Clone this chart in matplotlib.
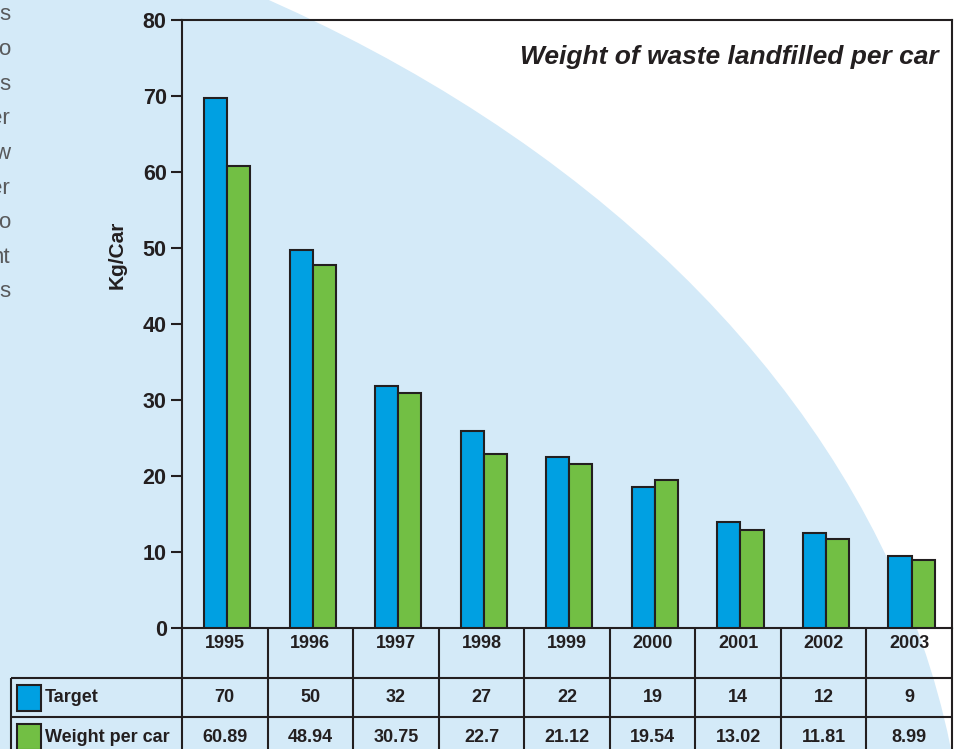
import matplotlib
matplotlib.use("Agg")
import matplotlib.pyplot as plt
from matplotlib.patches import Ellipse, Rectangle

# ---------------- data ----------------
years = ["1995", "1996", "1997", "1998", "1999", "2000", "2001", "2002", "2003"]
series_names = ["Target", "Weight per car"]
# bar heights as drawn in the chart
target_bars = [69.7, 49.7, 31.8, 25.9, 22.5, 18.6, 13.9, 12.5, 9.5]
weight_bars = [60.8, 47.8, 30.9, 22.9, 21.6, 19.5, 12.9, 11.7, 8.9]
# values printed in the table
target_labels = ["70", "50", "32", "27", "22", "19", "14", "12", "9"]
weight_labels = ["60.89", "48.94", "30.75", "22.7", "21.12", "19.54", "13.02", "11.81", "8.99"]
yticks = [0, 10, 20, 30, 40, 50, 60, 70, 80]
title = "Weight of waste landfilled per car"
ylabel = "Kg/Car"
side_fragments = ["s", "o", "s", "er", "w", "er", "o", "nt", "s"]

# ---------------- style ----------------
W, H = 960, 749
BLUE = "#00a0e2"
GREEN = "#72bf44"
DARK = "#231f20"
BG = "#d4eaf8"
FONT = "Liberation Sans"
LW = 1.5

fig = plt.figure(figsize=(W / 100, H / 100), dpi=100)
fig.patch.set_facecolor("white")

# pixel-space overlay axes (background shape, table, texts)
tax = fig.add_axes([0, 0, 1, 1], zorder=0)
tax.set_xlim(0, W)
tax.set_ylim(H, 0)
tax.axis("off")

tax.add_patch(Ellipse((-500, 900), 2 * 1466, 2 * 1057, facecolor=BG, edgecolor="none", zorder=0))

# plot area in pixels
AX_L, AX_R, AX_T, AX_B = 182, 952, 20, 628
ax = fig.add_axes([AX_L / W, (H - AX_B) / H, (AX_R - AX_L) / W, (AX_B - AX_T) / H], zorder=1)
ax.patch.set_alpha(0)

n = len(years)
bw = 0.27
xs = list(range(n))
ax.bar([x - bw / 2 for x in xs], target_bars, width=bw, color=BLUE, edgecolor=DARK, linewidth=LW, zorder=3)
ax.bar([x + bw / 2 for x in xs], weight_bars, width=bw, color=GREEN, edgecolor=DARK, linewidth=LW, zorder=3)
shift = 0.027
ax.set_xlim(-0.5 - shift, n - 0.5 - shift)
ax.set_ylim(yticks[0], yticks[-1])
ax.set_xticks([])
ax.set_yticks(yticks)
ax.set_yticklabels([str(t) for t in yticks], fontfamily=FONT, fontweight="bold", fontsize=15.5, color=DARK)
ax.tick_params(axis="y", direction="out", length=8, width=LW, color=DARK, pad=3)
for s in ["left", "top", "right", "bottom"]:
    ax.spines[s].set_linewidth(LW)
    ax.spines[s].set_color(DARK)
ax.set_ylabel(ylabel, fontfamily=FONT, fontweight="bold", fontsize=15, color=DARK)
ax.yaxis.set_label_coords((127 - AX_L) / (AX_R - AX_L), (AX_B - 255) / (AX_B - AX_T))

# title
tax.text(939, 57, title, ha="right", va="center", fontfamily=FONT, fontweight="bold",
         style="italic", fontsize=19, color=DARK)

# left-side text fragments (cut by the left edge, as in the source page)
for i, frag in enumerate(side_fragments):
    tax.text(10, 15 + i * 34.6, frag, ha="right", va="center", fontfamily=FONT,
             fontsize=16, color="#58595b")

# ---------------- table ----------------
col_w = (AX_R - AX_L) / n
row_y = [AX_B, 678, 717, 757]
lab_x0 = 11
lkw = dict(color=DARK, linewidth=LW, solid_capstyle="butt", zorder=2)
tax.plot([lab_x0, AX_R], [row_y[1], row_y[1]], **lkw)
tax.plot([lab_x0, AX_R], [row_y[2], row_y[2]], **lkw)
for i in range(n + 1):
    x = AX_L + i * col_w
    tax.plot([x, x], [row_y[0], row_y[3]], **lkw)
tax.plot([lab_x0, lab_x0], [row_y[1], row_y[3]], **lkw)

tkw = dict(ha="center", va="center", fontfamily=FONT, fontweight="bold", fontsize=13, color=DARK)
for i in range(n):
    cx = AX_L + (i + 0.5) * col_w
    tax.text(cx, 643, years[i], **tkw)
    tax.text(cx, (row_y[1] + row_y[2]) / 2, target_labels[i], **tkw)
    tax.text(cx, (row_y[2] + row_y[3]) / 2, weight_labels[i], **tkw)

# row labels with legend swatches
for r, (name, col) in enumerate(zip(series_names, [BLUE, GREEN])):
    top = row_y[1 + r]
    tax.add_patch(Rectangle((17, top + 7), 24, 26, facecolor=col, edgecolor=DARK, linewidth=LW, zorder=3))
    tax.text(45, (row_y[1 + r] + row_y[2 + r]) / 2, name, ha="left", va="center",
             fontfamily=FONT, fontweight="bold", fontsize=13, color=DARK)

fig.savefig("out.png", dpi=100)
